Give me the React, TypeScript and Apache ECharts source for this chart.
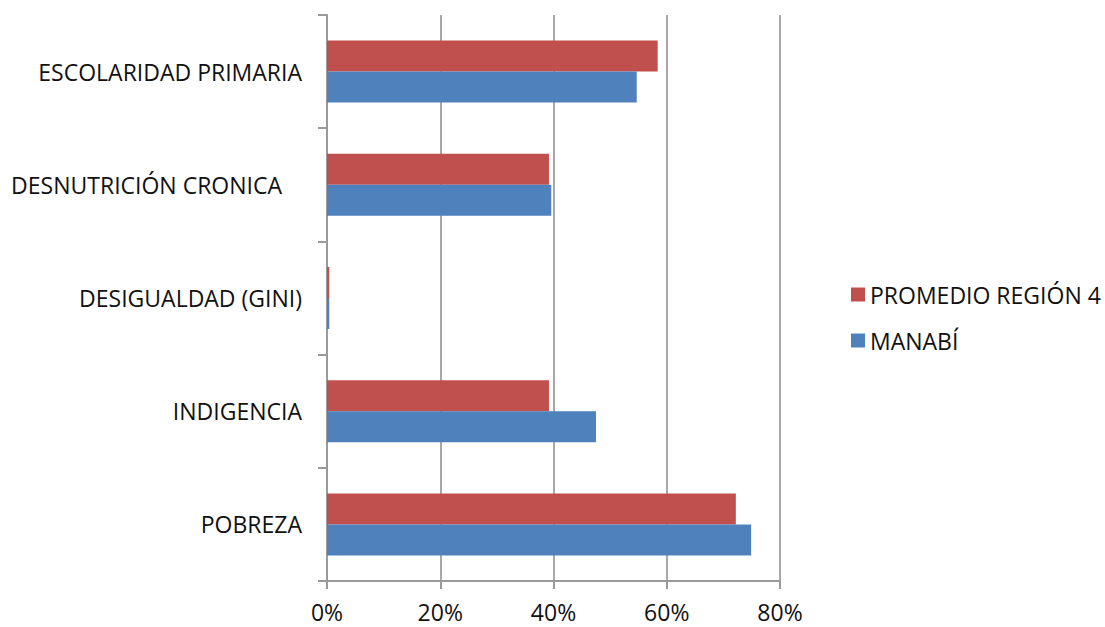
import React, { useEffect, useRef } from "react";
import * as echarts from "echarts";

// bottom-to-top order
const categories = ["POBREZA", "INDIGENCIA", "DESIGUALDAD (GINI)", "DESNUTRICIÓN CRONICA", "ESCOLARIDAD PRIMARIA"];
const manabi = [74.9, 47.5, 0.4, 39.6, 54.7];
const promedioRegion4 = [72.2, 39.2, 0.4, 39.2, 58.4];
const xTicks = [0, 20, 40, 60, 80];
const seriesNames = ["PROMEDIO REGIÓN 4", "MANABÍ"];

export default function App() {
  const ref = useRef<HTMLDivElement>(null);
  useEffect(() => {
    if (!ref.current) return;
    const chart = echarts.init(ref.current, null, { renderer: "svg" });
    const font = "Open Sans, Liberation Sans, sans-serif";
    const fs = 23;
    chart.setOption({
      animation: false,
      backgroundColor: "#ffffff",
      grid: { left: 327, right: 325, top: 15, bottom: 46, containLabel: false },
      legend: {
        data: seriesNames,
        orient: "vertical",
        left: 846,
        top: 278,
        itemWidth: 14,
        itemHeight: 14,
        itemGap: 23,
        icon: "rect",
        textStyle: { fontFamily: font, fontSize: fs, color: "#111" },
      },
      xAxis: {
        type: "value",
        min: xTicks[0],
        max: xTicks[xTicks.length - 1],
        interval: 20,
        axisLine: { show: true, lineStyle: { color: "#9a9a9a", width: 2 } },
        axisTick: { show: true, length: 8, lineStyle: { color: "#9a9a9a", width: 2 } },
        splitLine: { show: true, lineStyle: { color: "#a8a8a8", width: 2 } },
        axisLabel: {
          formatter: "{value}%",
          fontFamily: font,
          fontSize: fs,
          color: "#111",
          margin: 19,
        },
      },
      yAxis: {
        type: "category",
        data: categories,
        axisLine: { show: true, lineStyle: { color: "#9a9a9a", width: 2 } },
        axisTick: { show: true, length: 9, lineStyle: { color: "#9a9a9a", width: 2 } },
        axisLabel: {
          fontFamily: font,
          fontSize: fs,
          color: "#111",
          margin: 25,
          formatter: (v: string) => (v === "DESNUTRICIÓN CRONICA" ? `{pad|${v}}` : v),
          rich: {
            pad: { fontFamily: font, fontSize: fs, color: "#111", padding: [0, 20, 0, 0] },
          },
        },
      },
      series: [
        {
          name: "PROMEDIO REGIÓN 4",
          type: "bar",
          data: promedioRegion4,
          barWidth: 31,
          barGap: "0%",
          itemStyle: { color: "#c0504d" },
        },
        {
          name: "MANABÍ",
          type: "bar",
          data: manabi,
          barWidth: 31,
          barGap: "0%",
          itemStyle: { color: "#4f81bd" },
        },
      ],
    });
    return () => chart.dispose();
  }, []);
  return <div ref={ref} style={{ width: 1105, height: 627, position: "absolute", left: 0, top: 0 }} />;
}
